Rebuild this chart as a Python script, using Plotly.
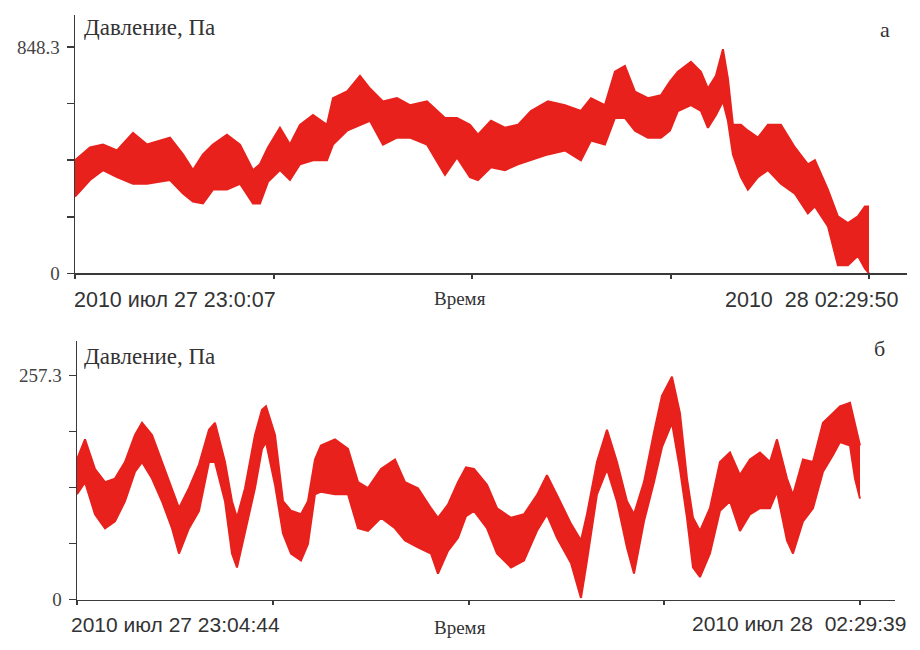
import plotly.graph_objects as go

# ---------------- data: panel "а" (elapsed minutes from 23:00:07) ----------------
t_a = [0, 3.96, 7.39, 11.09, 15.32, 19.02, 25.09, 28.52, 31.16, 33.80, 36.44, 40.14,
       43.58, 47.01, 48.86, 50.97, 54.14, 56.78, 59.42, 62.86, 66.55, 68.14, 71.84,
       75.27, 77.91, 81.34, 85.04, 88.47, 92.96, 97.72, 100.89, 104.32, 106.43,
       109.87, 113.56, 117.00, 120.43, 124.92, 129.41, 133.63, 136.28, 139.97,
       142.61, 145.25, 147.90, 151.33, 154.76, 157.14, 159.25, 162.69, 165.33,
       167.18, 169.29, 171.14, 172.46, 173.78, 175.89, 177.74, 180.38, 183.02,
       186.45, 190.15, 193.58, 195.43, 198.86, 201.50, 204.15, 206.79, 208.64, 209.72]
upper_a = [424, 472, 483, 461, 527, 483, 509, 446, 387, 446, 483, 520,
           483, 387, 409, 472, 546, 483, 557, 594, 557, 657, 682,
           741, 693, 645, 657, 631, 645, 583, 583, 557, 520,
           572, 546, 557, 609, 645, 631, 609, 657, 631,
           756, 778, 682, 657, 668, 719, 756, 793, 756,
           693, 741, 841, 730, 557, 557, 535, 509, 557,
           557, 472, 409, 424, 314, 214, 188, 214, 251, 251]
lower_a = [288, 350, 387, 361, 336, 336, 350, 299, 269, 262, 314, 314,
           336, 262, 262, 343, 387, 350, 409, 424, 424, 483, 535,
           557, 572, 483, 509, 509, 483, 369, 435, 361, 350,
           398, 387, 409, 424, 446, 461, 424, 498, 483,
           583, 583, 535, 509, 509, 535, 609, 631, 609,
           546, 594, 645, 572, 446, 361, 314, 361, 387,
           336, 299, 225, 251, 177, 30, 30, 66, 18, 0]

# ---------------- data: panel "б" (elapsed minutes from 23:04:44) ----------------
t_b = [0, 2.09, 4.71, 7.33, 9.94, 12.56, 15.18, 17.01, 19.63, 22.24, 24.86, 26.69,
       29.31, 31.93, 34.54, 36.11, 38.73, 40.56, 41.87, 43.97, 46.58, 48.41, 49.46,
       51.82, 53.91, 56.01, 58.62, 60.45, 62.28, 63.85, 67.52, 70.92, 73.54, 76.15,
       79.56, 83.22, 85.84, 89.24, 92.64, 94.47, 97.09, 99.71, 101.80, 103.89,
       107.30, 109.91, 113.58, 116.98, 120.38, 122.99, 125.62, 129.28, 131.90,
       133.47, 136.08, 138.70, 141.32, 143.93, 145.77, 148.38, 151.00, 153.09,
       155.71, 157.80, 159.64, 161.21, 163.04, 165.65, 168.27, 170.89, 173.50,
       176.12, 178.74, 181.36, 183.19, 185.81, 187.38, 190.00, 192.61, 195.23,
       197.85, 199.68, 202.30, 203.61, 204.92]
upper_b = [161, 184, 150, 135, 139, 158, 189, 203, 189, 158, 128, 105,
           128, 155, 195, 203, 158, 113, 94, 128, 189, 218, 222,
           189, 113, 102, 98, 113, 161, 177, 184, 173, 135, 128,
           150, 161, 135, 128, 105, 94, 109, 135, 152, 150,
           132, 105, 94, 98, 120, 143, 120, 87, 68,
           98, 158, 195, 158, 113, 98, 135, 192, 234,
           256, 214, 139, 94, 79, 105, 158, 169, 143,
           161, 169, 158, 184, 139, 120, 161, 158, 203,
           214, 222, 226, 203, 177]
lower_b = [121, 135, 98, 82, 90, 113, 147, 158, 139, 113, 82, 53,
           82, 102, 158, 158, 113, 53, 37, 76, 128, 173, 181,
           132, 76, 53, 45, 64, 121, 124, 121, 121, 82, 79,
           94, 82, 68, 60, 53, 30, 56, 71, 96, 102,
           82, 53, 37, 45, 79, 98, 71, 42, 2,
           45, 121, 150, 113, 60, 30, 90, 135, 175,
           203, 150, 94, 37, 26, 53, 102, 113, 79,
           98, 105, 105, 124, 68, 53, 90, 105, 147,
           166, 181, 177, 139, 116]

ymax_a = 848.3
ymax_b = 257.3
labels_a = ["2010 июл 27 23:0:07", "Время", "2010  28 02:29:50"]
labels_b = ["2010 июл 27 23:04:44", "Время", "2010 июл 28  02:29:39"]
ylabel = "Давление, Па"

RED = "#e8211c"
W, H = 920, 650
SERIF = "Liberation Serif, Times New Roman, serif"
SANS = "Liberation Sans, Arial, sans-serif"


def px(x):
    return x / W


def py(y):
    return 1 - y / H


fig = go.Figure()
for t, lo, up, xa, ya in [(t_a, lower_a, upper_a, "x", "y"), (t_b, lower_b, upper_b, "x2", "y2")]:
    fig.add_trace(go.Scatter(x=t, y=lo, mode="lines", line=dict(color=RED, width=2),
                             xaxis=xa, yaxis=ya, showlegend=False, hoverinfo="skip"))
    fig.add_trace(go.Scatter(x=t, y=up, mode="lines", line=dict(color=RED, width=2),
                             fill="tonexty", fillcolor=RED,
                             xaxis=xa, yaxis=ya, showlegend=False, hoverinfo="skip"))

T_a = t_a[-1]
T_b = t_b[-1]

axis_common = dict(showgrid=False, zeroline=False, showline=True, linecolor="#3a3a3a",
                   linewidth=1.5, ticks="outside", tickcolor="#3a3a3a", fixedrange=True)

fig.update_layout(
    width=W, height=H, margin=dict(l=0, r=0, t=0, b=0),
    paper_bgcolor="white", plot_bgcolor="white",
    xaxis=dict(domain=[px(75), px(907)], range=[0, T_a * 832 / 794], anchor="y",
               tickvals=[T_a * k / 4 for k in range(5)], ticktext=[""] * 5,
               ticklen=4, tickwidth=2, **axis_common),
    yaxis=dict(domain=[py(278), py(15)], range=[0, ymax_a * 263 / 230], anchor="x",
               tickvals=[ymax_a * k / 4 for k in range(5)],
               ticktext=["0", "", "", "", "848.3"], ticklen=7, tickwidth=1.5,
               ticklabelstandoff=3,
               tickfont=dict(family=SERIF, size=19, color="#444"), **axis_common),
    xaxis2=dict(domain=[px(77), px(895)], range=[0, T_b * 818 / 783], anchor="y2",
                tickvals=[T_b * k / 4 for k in range(5)], ticktext=[""] * 5,
                ticklen=4, tickwidth=2, **axis_common),
    yaxis2=dict(domain=[py(610), py(347)], range=[0, ymax_b * 263 / 228], anchor="x2",
                tickvals=[ymax_b * k / 4 for k in range(5)],
                ticktext=["0", "", "", "", "257.3"], ticklen=7, tickwidth=1.5,
                ticklabelstandoff=3,
                tickfont=dict(family=SERIF, size=19, color="#444"), **axis_common),
)

ann = []


def add(text, x, y, xanchor, family, size, color="#333"):
    ann.append(dict(text=text, x=px(x), y=py(y), xref="paper", yref="paper",
                    xanchor=xanchor, yanchor="middle", showarrow=False,
                    font=dict(family=family, size=size, color=color)))


add(ylabel, 82, 28, "left", SERIF, 23)
add(ylabel, 82, 363, "left", SERIF, 23)
add("а", 885, 30, "center", SERIF, 22)
add("б", 879, 355, "center", SERIF, 22)
add(labels_a[0], 72, 305, "left", SANS, 21.5)
add(labels_a[1], 460, 304, "center", SERIF, 19)
add(labels_a[2], 900, 305, "right", SANS, 21.5)
add(labels_b[0], 69, 635, "left", SANS, 21)
add(labels_b[1], 460, 638, "center", SERIF, 19)
add(labels_b[2], 908, 634, "right", SANS, 21)
fig.update_layout(annotations=ann)

fig.write_html("out.html", config={"displayModeBar": False, "staticPlot": True},
               post_script="document.body.style.margin='0px';")
